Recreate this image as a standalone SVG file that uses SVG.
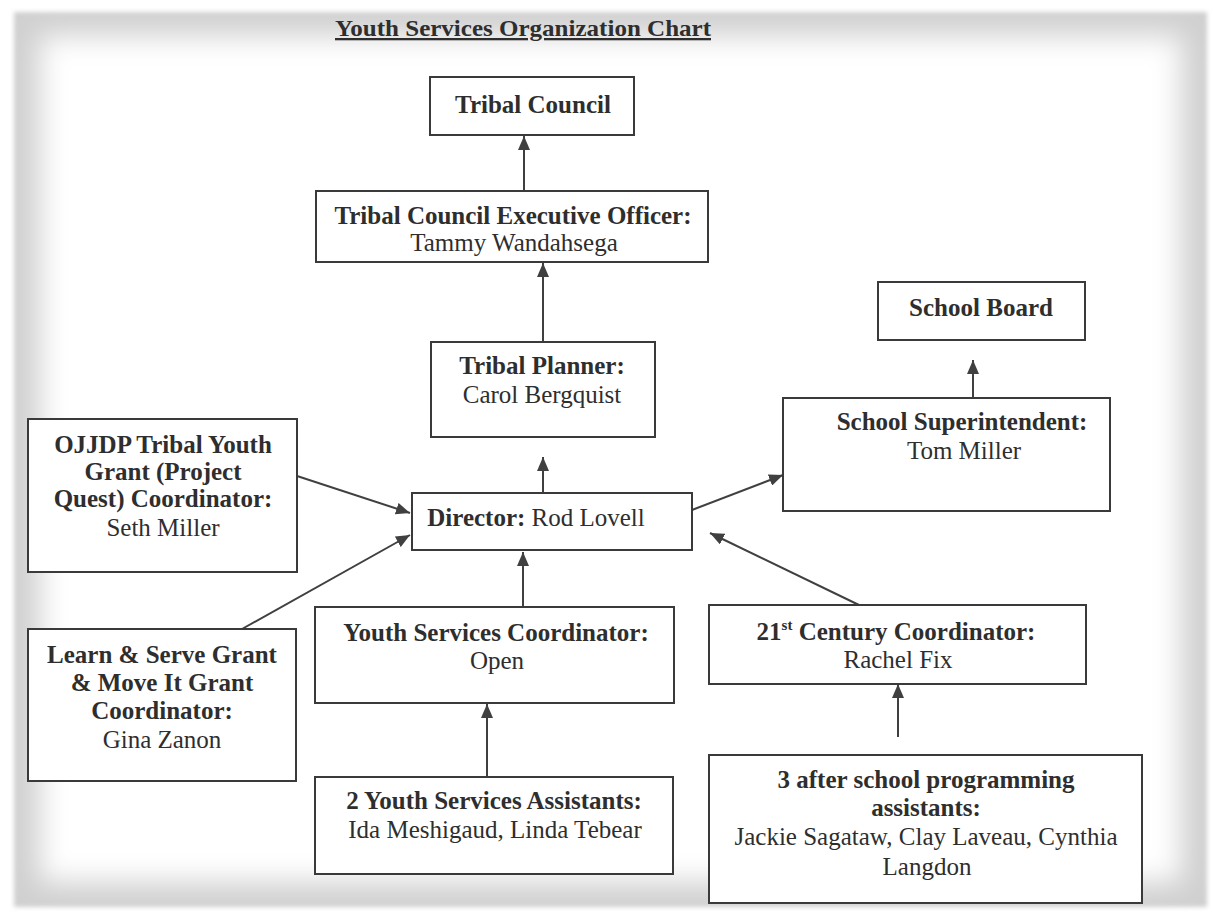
<svg xmlns="http://www.w3.org/2000/svg" width="1221" height="915" viewBox="0 0 1221 915">
<defs>
<style>
.box{fill:#fff;stroke:#3a3a3a;stroke-width:2}
text{font-family:"Liberation Serif","Times New Roman",serif;font-size:25px;fill:#2e2e2e;text-anchor:middle}
.b{font-weight:bold}
.title{font-size:23px;font-weight:bold;text-decoration:underline}
.conn line{stroke:#404040;stroke-width:2;marker-end:url(#ah)}
</style>
<marker id="ah" viewBox="0 0 14 12" refX="14" refY="6" markerWidth="14" markerHeight="12" markerUnits="userSpaceOnUse" orient="auto">
<path d="M0,0 L14,6 L0,12 Z" fill="#404040"/>
</marker>
<filter id="soft" x="-5%" y="-5%" width="110%" height="110%"><feGaussianBlur stdDeviation="2"/></filter>
<filter id="fade" x="-10%" y="-10%" width="120%" height="120%"><feGaussianBlur stdDeviation="14"/></filter>
</defs>
<rect width="1221" height="915" fill="#fff"/>
<rect x="14" y="12" width="1193" height="895" fill="#d0d0d0" filter="url(#soft)"/>
<rect x="40" y="36" width="1141" height="846" fill="#fff" filter="url(#fade)"/>

<text class="title" x="523" y="36" textLength="376" lengthAdjust="spacingAndGlyphs">Youth Services Organization Chart</text>

<g class="conn" id="connectors">
<line x1="524" y1="192" x2="524" y2="136"/>
<line x1="543" y1="342" x2="543" y2="263"/>
<line x1="543" y1="493" x2="543" y2="457"/>
<line x1="973" y1="397" x2="973" y2="360"/>
<line x1="692" y1="510" x2="783" y2="475"/>
<line x1="297" y1="476" x2="410" y2="513"/>
<line x1="242" y1="629" x2="410" y2="535"/>
<line x1="523" y1="607" x2="523" y2="552"/>
<line x1="487" y1="777" x2="487" y2="704"/>
<line x1="859" y1="605" x2="710" y2="533"/>
<line x1="898" y1="737" x2="898" y2="684"/>
</g>

<g id="tribal-council">
<rect class="box" x="430" y="77" width="204" height="58"/>
<text class="b" x="533" y="113">Tribal Council</text>
</g>

<g id="exec-officer">
<rect class="box" x="316" y="191" width="392" height="71"/>
<text class="b" x="513" y="224">Tribal Council Executive Officer:</text>
<text x="514" y="251">Tammy Wandahsega</text>
</g>

<g id="tribal-planner">
<rect class="box" x="431" y="342" width="224" height="95"/>
<text class="b" x="542" y="374">Tribal Planner:</text>
<text x="542" y="403">Carol Bergquist</text>
</g>

<g id="school-board">
<rect class="box" x="878" y="282" width="207" height="58"/>
<text class="b" x="981" y="316">School Board</text>
</g>

<g id="school-superintendent">
<rect class="box" x="783" y="398" width="327" height="113"/>
<text class="b" x="962" y="430">School Superintendent:</text>
<text x="964" y="459">Tom Miller</text>
</g>

<g id="director">
<rect class="box" x="412" y="493" width="280" height="57"/>
<text x="536" y="526"><tspan class="b">Director:</tspan> Rod Lovell</text>
</g>

<g id="ojjdp">
<rect class="box" x="28" y="419" width="269" height="153"/>
<text class="b" x="163" y="453">OJJDP Tribal Youth</text>
<text class="b" x="163" y="480">Grant (Project</text>
<text class="b" x="163" y="507">Quest) Coordinator:</text>
<text x="163" y="536">Seth Miller</text>
</g>

<g id="learn-serve">
<rect class="box" x="28" y="629" width="268" height="152"/>
<text class="b" x="162" y="663">Learn &amp; Serve Grant</text>
<text class="b" x="162" y="691">&amp; Move It Grant</text>
<text class="b" x="162" y="719">Coordinator:</text>
<text x="162" y="748">Gina Zanon</text>
</g>

<g id="youth-services-coordinator">
<rect class="box" x="315" y="607" width="359" height="96"/>
<text class="b" x="496" y="641">Youth Services Coordinator:</text>
<text x="497" y="669">Open</text>
</g>

<g id="youth-services-assistants">
<rect class="box" x="315" y="777" width="358" height="97"/>
<text class="b" x="494" y="809">2 Youth Services Assistants:</text>
<text x="495" y="838">Ida Meshigaud, Linda Tebear</text>
</g>

<g id="century-coordinator">
<rect class="box" x="709" y="605" width="377" height="79"/>
<text class="b" x="896" y="640">21<tspan font-size="15" dy="-10">st</tspan><tspan dy="10"> Century Coordinator:</tspan></text>
<text x="898" y="668">Rachel Fix</text>
</g>

<g id="after-school-assistants">
<rect class="box" x="709" y="755" width="433" height="148"/>
<text class="b" x="926" y="788">3 after school programming</text>
<text class="b" x="926" y="816">assistants:</text>
<text x="926" y="845">Jackie Sagataw, Clay Laveau, Cynthia</text>
<text x="927" y="875">Langdon</text>
</g>
</svg>
